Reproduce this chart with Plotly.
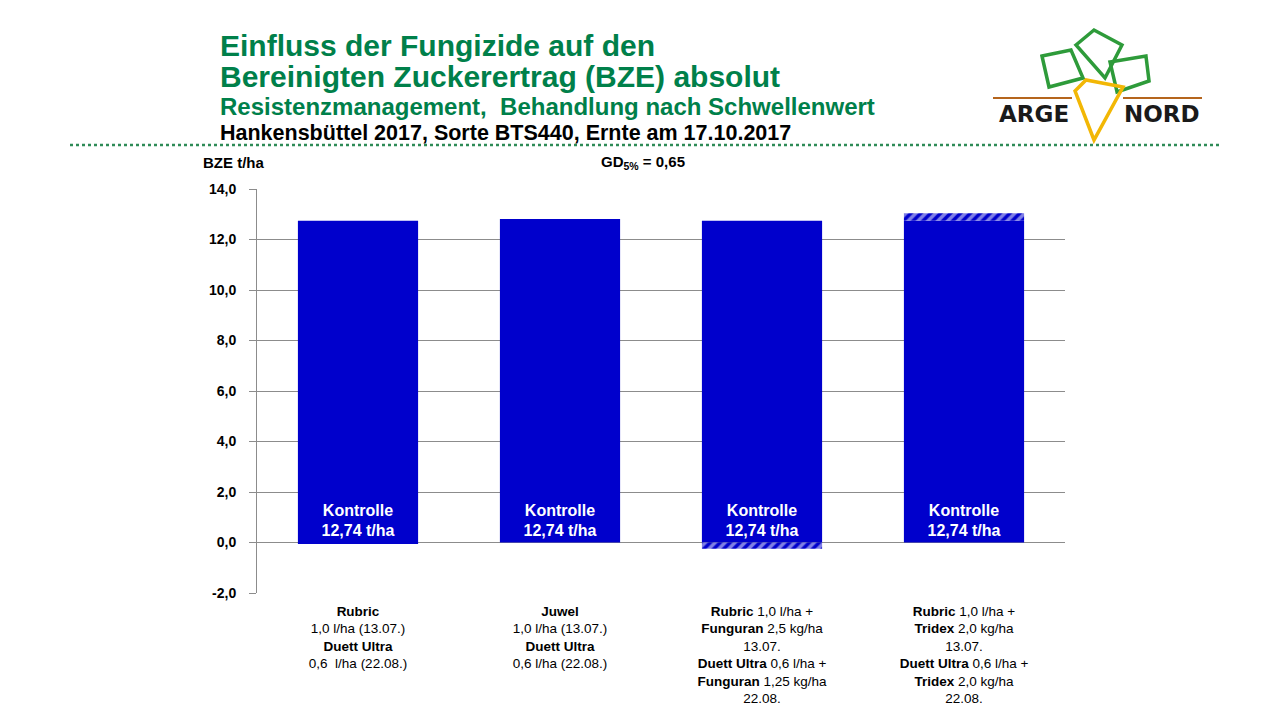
import plotly.graph_objects as go

# ---------------- data ----------------
categories = ["v1", "v2", "v3", "v4"]
tick_labels = [
    "<b>Rubric</b><br>1,0 l/ha (13.07.)<br><b>Duett Ultra</b><br>0,6  l/ha (22.08.)",
    "<b>Juwel</b><br>1,0 l/ha (13.07.)<br><b>Duett Ultra</b><br>0,6 l/ha (22.08.)",
    "<b>Rubric</b> 1,0 l/ha +<br><b>Funguran</b> 2,5 kg/ha<br>13.07.<br><b>Duett Ultra</b> 0,6 l/ha +<br><b>Funguran</b> 1,25 kg/ha<br>22.08.",
    "<b>Rubric</b> 1,0 l/ha +<br><b>Tridex</b> 2,0 kg/ha<br>13.07.<br><b>Duett Ultra</b> 0,6 l/ha +<br><b>Tridex</b> 2,0 kg/ha<br>22.08.",
]
kontrolle = [12.74, 12.74, 12.74, 12.74]
differenz = [-0.05, 0.04, -0.25, 0.30]
kontrolle_text = ["Kontrolle<br>12,74 t/ha"] * 4
y_ticks = [-2, 0, 2, 4, 6, 8, 10, 12, 14]
y_tick_text = ["-2,0", "0,0", "2,0", "4,0", "6,0", "8,0", "10,0", "12,0", "14,0"]

# ---------------- layout helpers ----------------
OFF = 8                      # page body margin
W, H = 1280 - 2 * OFF, 720 - 2 * OFF
L, R, T, B = 257, 1065, 189, 593   # plot area in screen pixels
def px(x):
    return (x - L) / (R - L)
def py(y):
    return (B - y) / (B - T)

BLUE = "#0000CC"
GREEN = "#00804A"
FONT = "Liberation Sans, Arial, sans-serif"

fig = go.Figure()
fig.add_trace(go.Bar(
    x=categories, y=kontrolle, marker=dict(color=BLUE, line=dict(width=0)),
    text=kontrolle_text, textposition="inside", insidetextanchor="start",
    textangle=0, constraintext="none",
    textfont=dict(color="white", size=16, family=FONT, weight="bold"),
    hoverinfo="skip", showlegend=False,
))
fig.add_trace(go.Bar(
    x=categories, y=differenz,
    marker=dict(color=BLUE, line=dict(width=0),
                pattern=dict(shape=["", "", "/", "/"], fgcolor="white", bgcolor=BLUE,
                             size=7, solidity=0.5)),
    hoverinfo="skip", showlegend=False,
))

fig.update_layout(
    width=W, height=H, barmode="relative", bargap=0.405,
    margin=dict(l=L - OFF, r=W - (R - OFF), t=T - OFF, b=H - (B - OFF), autoexpand=False),
    plot_bgcolor="white", paper_bgcolor="white",
    separators=",.",
    font=dict(family=FONT, color="black"),
    xaxis=dict(tickmode="array", tickvals=categories, ticktext=tick_labels,
               tickfont=dict(size=13.5), showgrid=False, showline=False,
               ticks="", zeroline=False, ticklabelstandoff=8),
    yaxis=dict(range=[-2, 14], tickmode="array", tickvals=y_ticks, ticktext=y_tick_text,
               tickfont=dict(size=14, weight="bold"),
               showgrid=True, gridcolor="#8c8c8c", gridwidth=1,
               zeroline=True, zerolinecolor="#8c8c8c", zerolinewidth=1,
               showline=True, linecolor="#8c8c8c", linewidth=1,
               ticks="outside", ticklen=7, tickcolor="#8c8c8c",
               ticklabelstandoff=10),
)

ann = []
def text(x, y, s, size, color="black", xanchor="left", bold=True, family=FONT):
    ann.append(dict(xref="paper", yref="paper", x=px(x), y=py(y), text=s,
                    showarrow=False, xanchor=xanchor, yanchor="middle",
                    font=dict(size=size, color=color, family=family,
                              weight="bold" if bold else "normal")))

text(218, 46, "Einfluss der Fungizide auf den", 30, GREEN)
text(218, 77, "Bereinigten Zuckerertrag (BZE) absolut", 30, GREEN)
text(218, 106, "Resistenzmanagement,  Behandlung nach Schwellenwert", 24, GREEN)
text(218, 133, "Hankensbüttel 2017, Sorte BTS440, Ernte am 17.10.2017", 21.5, "black")
text(201, 163, "BZE t/ha", 15)
text(643, 163, "GD<sub>5%</sub> = 0,65", 15, xanchor="center")
text(1034, 114, "ARGE", 23, "#1a1a1a", xanchor="center", family="DejaVu Sans")
text(1162, 114, "NORD", 23, "#1a1a1a", xanchor="center", family="DejaVu Sans")
fig.update_layout(annotations=ann)

shapes = []
# dotted separator
shapes.append(dict(type="line", xref="paper", yref="paper", x0=px(70), x1=px(1220),
                   y0=py(145), y1=py(145), line=dict(color="#2E8B57", width=2.5, dash="dot")))
# logo: brown ground lines
for x0, x1 in [(993, 1072), (1123, 1202)]:
    shapes.append(dict(type="line", xref="paper", yref="paper", x0=px(x0), x1=px(x1),
                       y0=py(98), y1=py(98), line=dict(color="#B5651D", width=2)))
def poly(pts, color, width=3):
    d = "M " + " L ".join(f"{px(a):.4f},{py(b):.4f}" for a, b in pts) + " Z"
    shapes.append(dict(type="path", xref="paper", yref="paper", path=d,
                       line=dict(color=color, width=width)))
# leaves
poly([(1042, 56), (1071, 50), (1083, 78), (1049, 87)], "#2E9B3A", 3.5)
poly([(1076, 45), (1094, 30), (1122, 45), (1105, 78)], "#2E9B3A", 3.5)
poly([(1110, 62), (1146, 56), (1149, 81), (1117, 92)], "#2E9B3A", 3.5)
# carrot
poly([(1075, 91), (1086, 80), (1123, 87), (1094, 140)], "#F2B705", 3.5)
fig.update_layout(shapes=shapes)

fig.write_html("out.html")
